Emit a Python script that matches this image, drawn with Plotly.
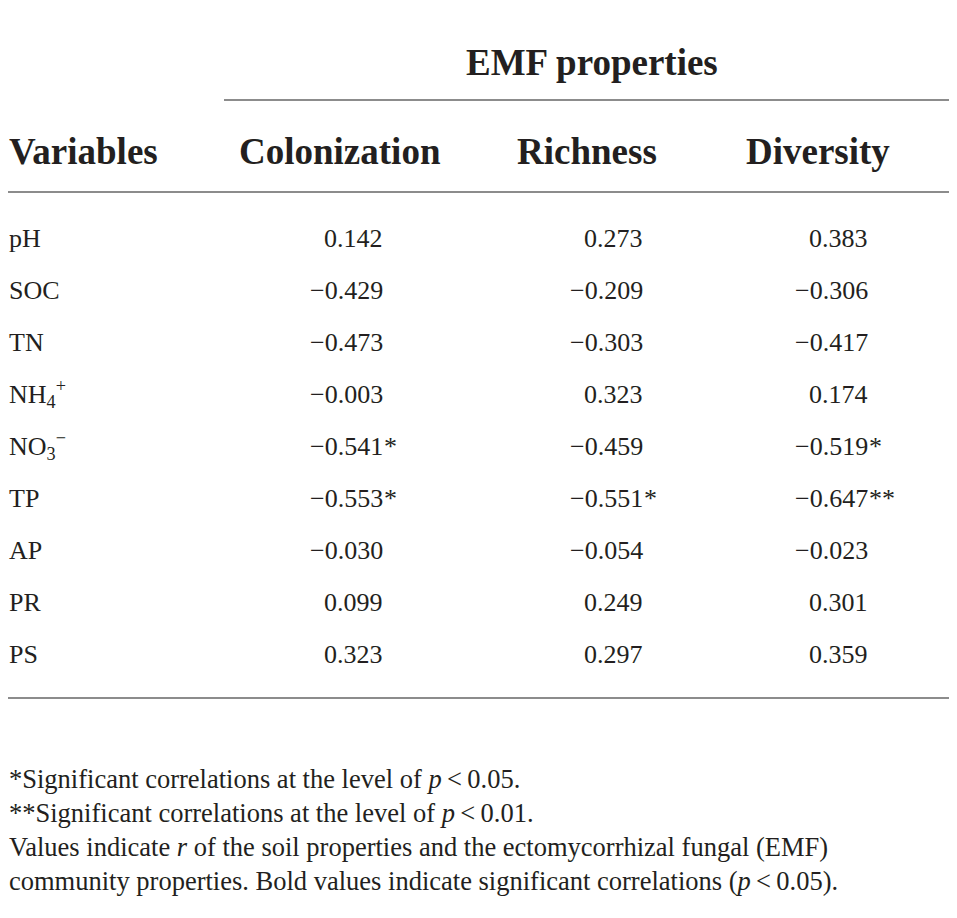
import plotly.graph_objects as go

# table contents
variables = ["pH", "SOC", "TN", "NH<sub>4</sub><sup>+</sup>", "NO<sub>3</sub><sup>−</sup>",
             "TP", "AP", "PR", "PS"]
headers = ["Colonization", "Richness", "Diversity"]
colonization = [0.142, -0.429, -0.473, -0.003, -0.541, -0.553, -0.030, 0.099, 0.323]
colonization_sig = ["", "", "", "", "*", "*", "", "", ""]
richness = [0.273, -0.209, -0.303, 0.323, -0.459, -0.551, -0.054, 0.249, 0.297]
richness_sig = ["", "", "", "", "", "*", "", "", ""]
diversity = [0.383, -0.306, -0.417, 0.174, -0.519, -0.647, -0.023, 0.301, 0.359]
diversity_sig = ["", "", "", "", "*", "**", "", "", ""]
footnotes = [
    "*Significant correlations at the level of <i>p</i>\u2009<\u20090.05.",
    "**Significant correlations at the level of <i>p</i>\u2009<\u20090.01.",
    "Values indicate <i>r</i> of the soil properties and the ectomycorrhizal fungal (EMF)",
    "community properties. Bold values indicate significant correlations (<i>p</i>\u2009<\u20090.05).",
]

W, H = 957, 918
PAD = 8  # page body margin; keep the figure inside the window (no scrollbars)
FONT = "Liberation Serif"
INK = "#231f20"
RULE = "#8c8c8c"

col_centers = [340, 587, 818]
col_right = [384, 644, 869]
row_top = 238
row_step = 52


def fmt(v):
    return f"{v:.3f}".replace("-", "\u2212")


ann = []


def text(x, y, s, size, anchor="left", bold=False):
    if bold:
        s = "<b>" + s + "</b>"
    ann.append(dict(x=x, y=y, xref="x", yref="y", text=s, showarrow=False,
                    xanchor=anchor, yanchor="middle", borderpad=0,
                    font=dict(family=FONT, size=size, color=INK)))


text(592, 62, "EMF properties", 37, "center", True)
text(PAD, 151, "Variables", 37, "left", True)
for h, cx in zip(headers, col_centers):
    text(cx, 151, h, 37, "center", True)

columns = [(colonization, colonization_sig), (richness, richness_sig),
           (diversity, diversity_sig)]
for i, var in enumerate(variables):
    y = row_top + i * row_step
    text(PAD, y, var, 26)
    for (vals, sig), xr in zip(columns, col_right):
        text(xr, y, fmt(vals[i]), 26, "right")
        if sig[i]:
            text(xr - 1, y, sig[i], 26, "left")

for k, note in enumerate(footnotes):
    text(PAD, 779 + k * 34, note, 26.5)

shapes = [
    dict(type="line", xref="x", yref="y", x0=224, x1=W, y0=100, y1=100,
         line=dict(color=RULE, width=2)),
    dict(type="line", xref="x", yref="y", x0=PAD, x1=W, y0=192, y1=192,
         line=dict(color=RULE, width=2)),
    dict(type="line", xref="x", yref="y", x0=PAD, x1=W, y0=698, y1=698,
         line=dict(color=RULE, width=2)),
]

fig = go.Figure()
fig.update_layout(
    width=W - 2 * PAD, height=H - 2 * PAD,
    margin=dict(l=0, r=0, t=0, b=0),
    paper_bgcolor="white", plot_bgcolor="white",
    xaxis=dict(range=[PAD, W - PAD], visible=False, fixedrange=True),
    yaxis=dict(range=[H - PAD, PAD], visible=False, fixedrange=True),
    annotations=ann, shapes=shapes, showlegend=False,
)
fig.write_html("out.html")
